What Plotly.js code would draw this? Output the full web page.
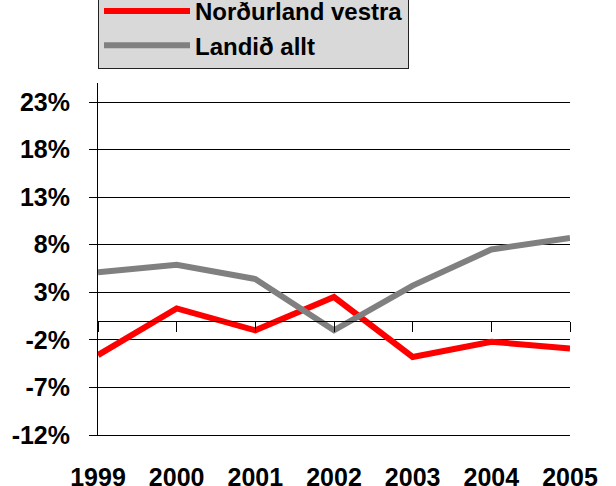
<!DOCTYPE html>
<html>
<head>
<meta charset="utf-8">
<script src="https://cdn.plot.ly/plotly-3.0.1.min.js"></script>
<style>html,body{margin:0;padding:0;background:#fff;}#chart{width:616px;height:486px;}</style>
</head>
<body>
<div id="chart"></div>
<script>
const years = [1999, 2000, 2001, 2002, 2003, 2004, 2005];
const yearLabels = ["1999", "2000", "2001", "2002", "2003", "2004", "2005"];
const nordurlandVestra = [-3.6, 1.3, -1.0, 2.5, -3.8, -2.2, -2.9];
const landidAllt = [5.1, 5.9, 4.4, -1.0, 3.7, 7.5, 8.7];
const yTickVals = [-12, -7, -2, 3, 8, 13, 18, 23];
const yTickText = ["-12%", "-7%", "-2%", "3%", "8%", "13%", "18%", "23%"];
const seriesNames = ["Norðurland vestra", "Landið allt"];

const yMin = -12, yMax = 25;
const fam = "Liberation Sans, Arial, sans-serif";
const boldFont = {family: fam, size: 25, color: "#000", weight: "bold"};

const traces = [
  {x: years, y: nordurlandVestra, name: seriesNames[0], type: "scatter", mode: "lines",
   line: {color: "#ff0000", width: 6}, xaxis: "x", yaxis: "y"},
  {x: years, y: landidAllt, name: seriesNames[1], type: "scatter", mode: "lines",
   line: {color: "#808080", width: 6}, xaxis: "x2", yaxis: "y"}
];

const layout = {
  width: 616, height: 486,
  margin: {l: 98, r: 46, t: 83, b: 51, autoexpand: false},
  paper_bgcolor: "#fff", plot_bgcolor: "#fff",
  font: {family: fam, size: 25, color: "#000"},
  showlegend: true,
  legend: {
    x: 0, y: 1.0398, xanchor: "left", yanchor: "bottom",
    bgcolor: "#d9d9d9", bordercolor: "#222", borderwidth: 1,
    font: {family: fam, size: 24, color: "#000", weight: "bold"},
    itemwidth: 86, tracegroupgap: 0
  },
  xaxis: {
    range: [1999, 2005], tickvals: years, ticktext: yearLabels,
    showgrid: false, zeroline: false, showline: true, linecolor: "#000", linewidth: 1,
    ticks: "outside", ticklen: 20, tickcolor: "rgba(0,0,0,0)",
    tickfont: boldFont
  },
  xaxis2: {
    overlaying: "x", matches: "x", anchor: "free", position: (0 - yMin) / (yMax - yMin),
    range: [1999, 2005], tickvals: years, showticklabels: false,
    showgrid: false, zeroline: false, showline: true, linecolor: "#000", linewidth: 1,
    ticks: "outside", ticklen: 10, tickcolor: "#000", tickwidth: 1
  },
  yaxis: {
    range: [yMin, yMax], tickvals: yTickVals, ticktext: yTickText,
    showgrid: true, gridcolor: "#000", gridwidth: 1,
    zeroline: false, showline: true, linecolor: "#000", linewidth: 1,
    ticks: "outside", ticklen: 8, tickcolor: "#000", tickwidth: 1,
    ticklabelstandoff: 14,
    tickfont: boldFont
  }
};

Plotly.newPlot("chart", traces, layout, {staticPlot: true, displayModeBar: false});
</script>
</body>
</html>
